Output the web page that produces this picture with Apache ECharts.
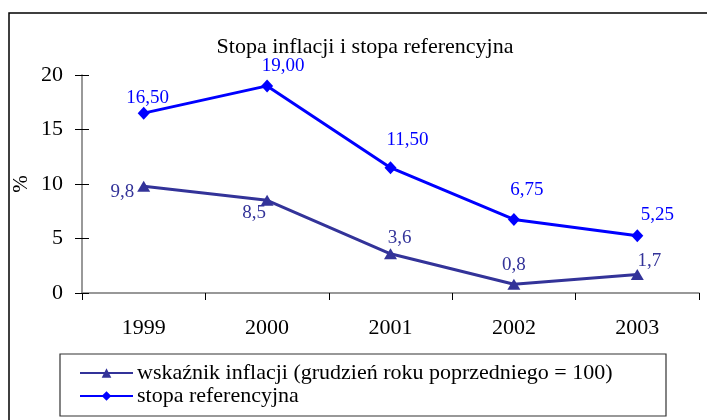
<!DOCTYPE html>
<html><head><meta charset="utf-8">
<script src="https://cdn.jsdelivr.net/npm/echarts@6/dist/echarts.min.js"></script>
<style>html,body{margin:0;padding:0;background:#fff}#c{width:707px;height:420px}</style>
</head><body><div id="c"></div>
<script>
const years = ['1999','2000','2001','2002','2003'];
const inflation = [9.8, 8.5, 3.6, 0.8, 1.7];
const refRate = [16.5, 19.0, 11.5, 6.75, 5.25];
const inflationLabels = ['9,8','8,5','3,6','0,8','1,7'];
const refLabels = ['16,50','19,00','11,50','6,75','5,25'];
const yTicks = [0,5,10,15,20];
const titleText = 'Stopa inflacji i stopa referencyjna';
const seriesNames = ['wskaźnik inflacji (grudzień roku poprzedniego = 100)', 'stopa referencyjna'];

const F = '"Liberation Serif","Times New Roman",serif';
const infLabelPos = [
  {position:'left', offset:[2,6]},
  {position:'bottom', offset:[-13,-7]},
  {position:'top', offset:[9,4]},
  {position:'top', offset:[0,1]},
  {position:'top', offset:[12,7]}
];
const refLabelPos = [
  {position:'top', offset:[4,6]},
  {position:'top', offset:[16,1]},
  {position:'top', offset:[17,-7]},
  {position:'top', offset:[13,-8]},
  {position:'top', offset:[20,0]}
];
const chart = echarts.init(document.getElementById('c'), null, {renderer:'canvas'});
chart.setOption({
  backgroundColor:'#fff',
  animation:false,
  title:{text:titleText, left:360, top:31, textAlign:'center',
    textStyle:{fontFamily:F, fontSize:22, fontWeight:'normal', color:'#000'}},
  graphic:[{type:'rect', shape:{x:9,y:13,width:720,height:430}, style:{fill:'none', stroke:'#000', lineWidth:1.5}, silent:true}],
  legend:{
    left:60, top:354, orient:'vertical',
    padding:[8,13,9,19],
    borderColor:'#333', borderWidth:1.2,
    itemWidth:53, itemHeight:12, itemGap:1,
    textStyle:{fontFamily:F, fontSize:22, color:'#000', width:516, lineHeight:20, padding:[0,0,0,-1]},
    data:seriesNames
  },
  grid:{left:82, right:8, top:75, bottom:127},
  xAxis:{type:'category', data:years, boundaryGap:true,
    axisLine:{lineStyle:{color:'#777', width:1.5}},
    axisTick:{show:true, length:7, lineStyle:{color:'#000'}},
    axisLabel:{fontFamily:F, fontSize:22, color:'#000', margin:24}},
  yAxis:[{type:'value', min:0, max:20, interval:5,
    name:'%', nameLocation:'middle', nameGap:50, nameRotate:90, nameMoveOverlap:false,
    nameTextStyle:{fontFamily:F, fontSize:21, color:'#000'},
    axisLine:{show:true, lineStyle:{color:'#777', width:1.5}},
    axisTick:{show:true, length:7, lineStyle:{color:'#000'}},
    splitLine:{show:false},
    axisLabel:{fontFamily:F, fontSize:22, color:'#000', margin:19,
      formatter:v=>yTicks.includes(v)?String(v):''}},
   {type:'value', min:0, max:20, interval:5, position:'left',
    axisLine:{show:false}, axisLabel:{show:false}, splitLine:{show:false},
    axisTick:{show:true, inside:true, length:7, lineStyle:{color:'#000'}}}],
  series:[
    {name:seriesNames[0], type:'line', data:inflation.map((v,i)=>({value:v, label:infLabelPos[i]})),
     symbol:'triangle', symbolSize:[13,11], lineStyle:{color:'#333399', width:3},
     itemStyle:{color:'#333399'},
     label:{show:true, distance:5, fontFamily:F, fontSize:19, color:'#333399',
       formatter:p=>inflationLabels[p.dataIndex]}},
    {name:seriesNames[1], type:'line', data:refRate.map((v,i)=>({value:v, label:refLabelPos[i]})),
     symbol:'diamond', symbolSize:[12,13], lineStyle:{color:'#0000ff', width:3},
     itemStyle:{color:'#0000ff'},
     label:{show:true, distance:5, fontFamily:F, fontSize:19, color:'#0000ff',
       formatter:p=>refLabels[p.dataIndex]}}
  ]
});
</script></body></html>
